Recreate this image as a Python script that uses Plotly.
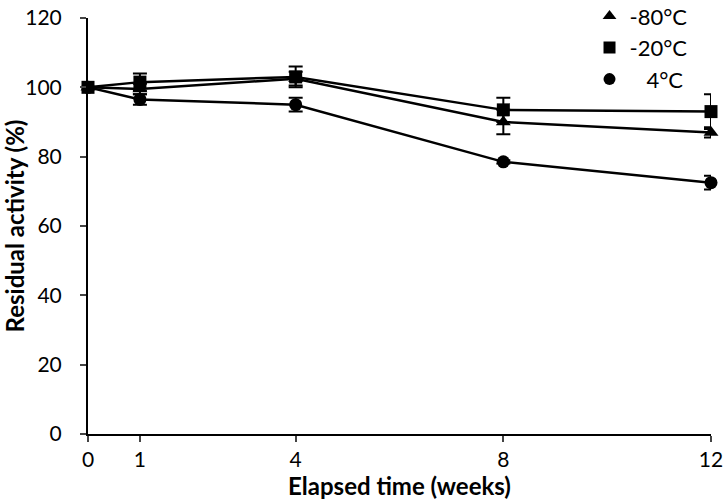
import plotly.graph_objects as go

weeks = [0, 1, 4, 8, 12]
series_names = ["-80°C", "-20°C", "\u00a0\u00a0\u00a04°C"]
minus80 = [100, 99.5, 102.5, 90, 87]
minus80_err = [0, 1.5, 2, 3.5, 1.5]
minus20 = [100, 101.5, 103, 93.5, 93]
minus20_err = [0, 2.5, 3, 3.5, 5]
plus4 = [100, 96.5, 95, 78.5, 72.5]
plus4_err = [0, 1.5, 2, 0.5, 2]
symbols = ["triangle-up", "square", "circle"]

fig = go.Figure()
for name, vals, errs, sym in zip(series_names, [minus80, minus20, plus4],
                                 [minus80_err, minus20_err, plus4_err], symbols):
    fig.add_trace(go.Scatter(
        x=weeks, y=vals, name=name, mode="lines+markers", showlegend=False,
        line=dict(color="black", width=2.5), cliponaxis=False,
        marker=dict(symbol=sym, size=13, color="black"),
        error_y=dict(type="data", array=errs, visible=True, color="black",
                     thickness=2, width=7),
    ))
for name, sym in zip(series_names, symbols):
    fig.add_trace(go.Scatter(
        x=[None], y=[None], name=name, mode="markers",
        marker=dict(symbol=sym, size=14, color="black"),
    ))

fig.update_layout(
    width=724, height=504,
    margin=dict(l=88, r=13, t=18, b=70, autoexpand=False),
    plot_bgcolor="white", paper_bgcolor="white",
    font=dict(family="Lato, Open Sans, sans-serif", size=21, color="black"),
    showlegend=True,
    legend=dict(x=0.805, y=1.055, xanchor="left", yanchor="top",
                bgcolor="rgba(0,0,0,0)", font=dict(size=22),
                tracegroupgap=0, itemsizing="constant"),
    xaxis=dict(range=[0, 12], tickvals=weeks, ticks="outside", ticklen=6,
               tickwidth=2, showline=True, linecolor="black", linewidth=2,
               showgrid=False, zeroline=False, automargin=False,
               title=dict(text="<b>Elapsed time (weeks)</b>", font=dict(size=24), standoff=0)),
    yaxis=dict(range=[0, 120], dtick=20, ticks="outside", ticklen=6,
               tickwidth=2, showline=True, linecolor="black", linewidth=2,
               showgrid=False, zeroline=False, automargin=False,
               ticklabelstandoff=14,
               title=dict(text="<b>Residual activity (%)</b>", font=dict(size=24), standoff=8)),
)

fig.write_html("out.html", config={"displayModeBar": False},
               post_script="document.body.style.margin='0';")
